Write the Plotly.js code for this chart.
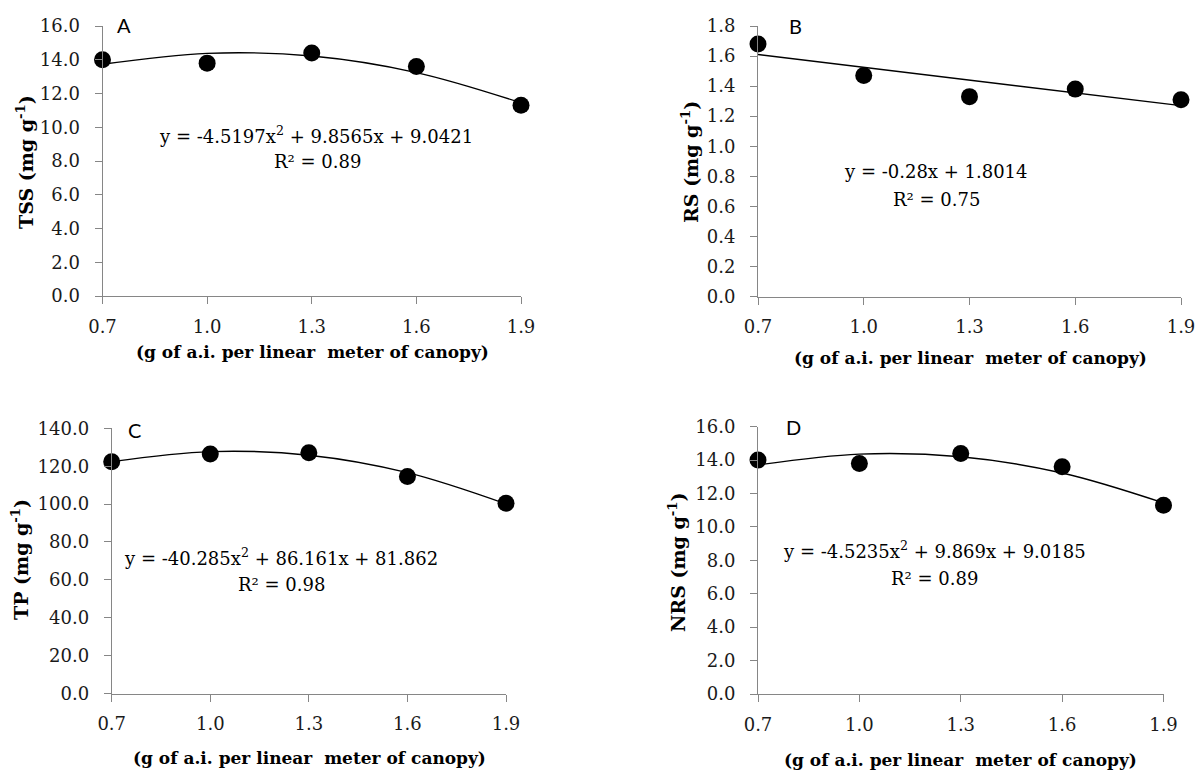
<!DOCTYPE html>
<html>
<head>
<meta charset="utf-8">
<script src="https://cdn.plot.ly/plotly-3.0.1.min.js"></script>
<style>html,body{margin:0;padding:0;background:#fff;}#chart{width:1199px;height:770px;}</style>
</head>
<body>
<div id="chart"></div>
<script>
// ---- data ----
const doses = [0.7, 1.0, 1.3, 1.6, 1.9];
const doseLabels = ["0.7", "1.0", "1.3", "1.6", "1.9"];

const tssObs = [14.0, 13.8, 14.4, 13.6, 11.3];
const tssTrend = [13.73, 14.38, 14.22, 13.24, 11.45];

const rsObs = [1.68, 1.47, 1.33, 1.38, 1.31];
const rsTrendX = [0.7, 1.9];
const rsTrend = [1.61, 1.27];

const tpObs = [122.4, 126.4, 127.1, 114.5, 100.4];
const tpTrend = [122.4, 127.7, 125.8, 116.6, 100.1];

const nrsObs = [14.0, 13.8, 14.4, 13.6, 11.3];
const nrsTrend = [13.71, 14.36, 14.20, 13.23, 11.44];

const panelLetters = ["A", "B", "C", "D"];
const yTitles = ["TSS (mg g<sup>-1</sup>)", "RS (mg g<sup>-1</sup>)", "TP (mg g<sup>-1</sup>)", "NRS (mg g<sup>-1</sup>)"];
const xTitle = "(g of a.i. per linear\u00a0 meter of canopy)";
const equations = [
  "y = -4.5197x<sup>2</sup> + 9.8565x + 9.0421",
  "y = -0.28x + 1.8014",
  "y = -40.285x<sup>2</sup> + 86.161x + 81.862",
  "y = -4.5235x<sup>2</sup> + 9.869x + 9.0185"
];
const r2Texts = ["R\u00b2 = 0.89", "R\u00b2 = 0.75", "R\u00b2 = 0.98", "R\u00b2 = 0.89"];

// ---- layout helpers ----
const W = 1199, H = 770;
const px = v => v / W;
const py = v => 1 - v / H;

const SERIF = "DejaVu Serif, Liberation Serif, serif";
const AX = "#868686";

function mkTrace(x, y, xa, ya, kind) {
  if (kind === "pts") {
    return {x: x, y: y, xaxis: xa, yaxis: ya, type: "scatter", mode: "markers",
      marker: {color: "#000", size: 17}, cliponaxis: false, showlegend: false, hoverinfo: "x+y"};
  }
  return {x: x, y: y, xaxis: xa, yaxis: ya, type: "scatter", mode: "lines",
    line: {color: "#000", width: 1.4, shape: kind === "spline" ? "spline" : "linear"},
    cliponaxis: false, showlegend: false, hoverinfo: "skip"};
}

const data = [
  mkTrace(doses, tssTrend, "x", "y", "spline"),
  mkTrace(doses, tssObs, "x", "y", "pts"),
  mkTrace(rsTrendX, rsTrend, "x2", "y2", "line"),
  mkTrace(doses, rsObs, "x2", "y2", "pts"),
  mkTrace(doses, tpTrend, "x3", "y3", "spline"),
  mkTrace(doses, tpObs, "x3", "y3", "pts"),
  mkTrace(doses, nrsTrend, "x4", "y4", "spline"),
  mkTrace(doses, nrsObs, "x4", "y4", "pts")
];

function xAx(d0, d1, anchor) {
  return {domain: [px(d0), px(d1)], anchor: anchor, range: [0.7, 1.9], tickvals: doses, ticktext: doseLabels,
    showline: true, linecolor: AX, linewidth: 1, ticks: "outside", ticklen: 7, tickcolor: AX, tickwidth: 1,
    showgrid: false, zeroline: false, ticklabelstandoff: 7,
    tickfont: {family: SERIF, size: 18, color: "#1a1a1a"}};
}
function yAx(d0, d1, anchor, rng, dt) {
  return {domain: [py(d0), py(d1)], anchor: anchor, range: rng, dtick: dt, tick0: 0, tickformat: ".1f",
    showline: true, linecolor: AX, linewidth: 1, ticks: "outside", ticklen: 7, tickcolor: AX, tickwidth: 1,
    showgrid: false, zeroline: false, ticklabelstandoff: 11,
    tickfont: {family: SERIF, size: 18, color: "#1a1a1a"}};
}

// panel frames in px: [xLeft, xRight, yBottom, yTop]
const frames = [
  [102.5, 521, 296, 26],
  [758, 1181, 296.5, 26],
  [111.7, 506, 693.5, 428.3],
  [758, 1163.5, 694, 426.7]
];

const layout = {
  width: W, height: H,
  margin: {l: 0, r: 0, t: 0, b: 0},
  paper_bgcolor: "#fff", plot_bgcolor: "rgba(0,0,0,0)",
  showlegend: false,
  xaxis: xAx(frames[0][0], frames[0][1], "y"),
  yaxis: yAx(frames[0][2], frames[0][3], "x", [0, 16], 2),
  xaxis2: xAx(frames[1][0], frames[1][1], "y2"),
  yaxis2: yAx(frames[1][2], frames[1][3], "x2", [0, 1.8], 0.2),
  xaxis3: xAx(frames[2][0], frames[2][1], "y3"),
  yaxis3: yAx(frames[2][2], frames[2][3], "x3", [0, 140], 20),
  xaxis4: xAx(frames[3][0], frames[3][1], "y4"),
  yaxis4: yAx(frames[3][2], frames[3][3], "x4", [0, 16], 2),
  annotations: []
};

const letterPos = [[124, 25], [795, 26], [134.5, 430], [793, 427]];
const yTitlePos = [[25, 162], [690, 162], [20, 560], [677, 562]];
const xTitlePos = [[312, 352], [970, 358], [309, 758], [960, 760]];
const eqPos = [[316, 135], [936, 172], [281, 557], [934.5, 550]];
const r2Pos = [[317, 162], [936, 200], [281, 584], [934.5, 578]];

for (let i = 0; i < 4; i++) {
  layout.annotations.push({xref: "paper", yref: "paper", x: px(letterPos[i][0]), y: py(letterPos[i][1]),
    text: panelLetters[i], showarrow: false, xanchor: "center", yanchor: "middle",
    font: {family: "Lato, Open Sans, sans-serif", size: 20, color: "#000"}});
  layout.annotations.push({xref: "paper", yref: "paper", x: px(yTitlePos[i][0]), y: py(yTitlePos[i][1]),
    text: "<b>" + yTitles[i] + "</b>", showarrow: false, textangle: -90, xanchor: "center", yanchor: "middle",
    font: {family: SERIF, size: 19, color: "#000"}});
  layout.annotations.push({xref: "paper", yref: "paper", x: px(xTitlePos[i][0]), y: py(xTitlePos[i][1]),
    text: "<b>" + xTitle + "</b>", showarrow: false, xanchor: "center", yanchor: "middle",
    font: {family: SERIF, size: 17, color: "#000"}});
  layout.annotations.push({xref: "paper", yref: "paper", x: px(eqPos[i][0]), y: py(eqPos[i][1]),
    text: equations[i], showarrow: false, xanchor: "center", yanchor: "middle",
    font: {family: SERIF, size: 18, color: "#000"}});
  layout.annotations.push({xref: "paper", yref: "paper", x: px(r2Pos[i][0]), y: py(r2Pos[i][1]),
    text: r2Texts[i], showarrow: false, xanchor: "center", yanchor: "middle",
    font: {family: SERIF, size: 18, color: "#000"}});
}

Plotly.newPlot("chart", data, layout, {displayModeBar: false, staticPlot: true});
</script>
</body>
</html>
